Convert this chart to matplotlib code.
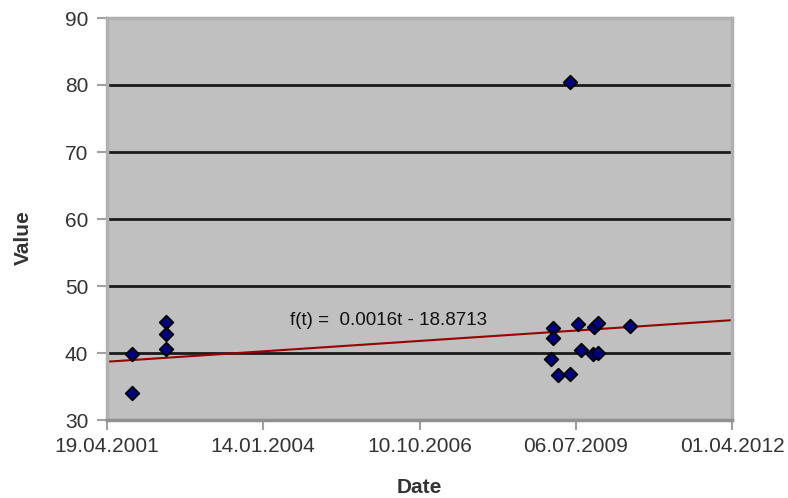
import numpy as np
import pandas as pd
import matplotlib
matplotlib.use("Agg")
import matplotlib.pyplot as plt

# data
dates = ["2001-09-28", "2001-09-28", "2002-04-30", "2002-04-30", "2002-04-30",
         "2009-01-27", "2009-02-12", "2009-02-12", "2009-03-12", "2009-05-30",
         "2009-05-30", "2009-07-18", "2009-08-09", "2009-10-26", "2009-11-02",
         "2009-11-23", "2009-11-27", "2010-06-18"]
values = [39.8, 34.1, 44.6, 42.8, 40.6,
          39.1, 43.7, 42.2, 36.7, 36.8,
          80.4, 44.3, 40.4, 39.9, 43.9,
          44.5, 40.0, 44.1]
tick_dates = ["2001-04-19", "2004-01-14", "2006-10-10", "2009-07-06", "2012-04-01"]
tick_labels = ["19.04.2001", "14.01.2004", "10.10.2006", "06.07.2009", "01.04.2012"]
# trend line as drawn in the chart (value at left and right edge)
trend_values = [38.7, 44.9]
equation = "f(t) =  0.0016t - 18.8713"
equation_pos = ("2004-07-04", 44.9)

epoch = pd.Timestamp("1899-12-30")
def serial(d):
    return (pd.to_datetime(d) - epoch).days

x = np.array([serial(d) for d in dates], dtype=float)
y = np.array(values)
xt = [serial(d) for d in tick_dates]

plt.rcParams['font.family'] = ['Liberation Sans', 'DejaVu Sans']

fig = plt.figure(figsize=(7.88, 4.98), dpi=100)
ax = fig.add_axes([107/788, 1-420/498, 625/788, 402/498])
ax.set_facecolor('#c0c0c0')

ax.set_xlim(xt[0], xt[-1])
ax.set_ylim(30, 90)
ax.set_yticks(range(30, 91, 10))
ax.set_xticks(xt)
ax.set_xticklabels(tick_labels)

for v in range(40, 91, 10):
    ax.axhline(v, color='#1a1a1a', lw=2, zorder=1)

ax.plot([xt[0], xt[-1]], trend_values, color='#990000', lw=1.5, zorder=2)

ax.scatter(x, y, marker='D', s=48, c='#000080', edgecolors='black', linewidths=1.3, zorder=3)

ax.text(serial(equation_pos[0]), equation_pos[1], equation, fontsize=13.5, color='#111111',
        ha='left', va='center', zorder=4)

for s in ax.spines.values():
    s.set_color('#b0b0b0')
    s.set_linewidth(2.5)
ax.spines['bottom'].set_color('#909090')
ax.tick_params(axis='both', colors='#a0a0a0', labelcolor='#333333', labelsize=15, length=7.5, width=1.5)
ax.tick_params(axis='x', pad=5)
ax.tick_params(axis='y', pad=6)

fig.text(419.5/788, 1-487/498, 'Date', fontsize=15, fontweight='bold', color='#333333',
         ha='center', va='center')
fig.text(23/788, 1-238/498, 'Value', fontsize=15, fontweight='bold', color='#333333',
         ha='center', va='center', rotation=90)

fig.savefig('out.png', dpi=100)
